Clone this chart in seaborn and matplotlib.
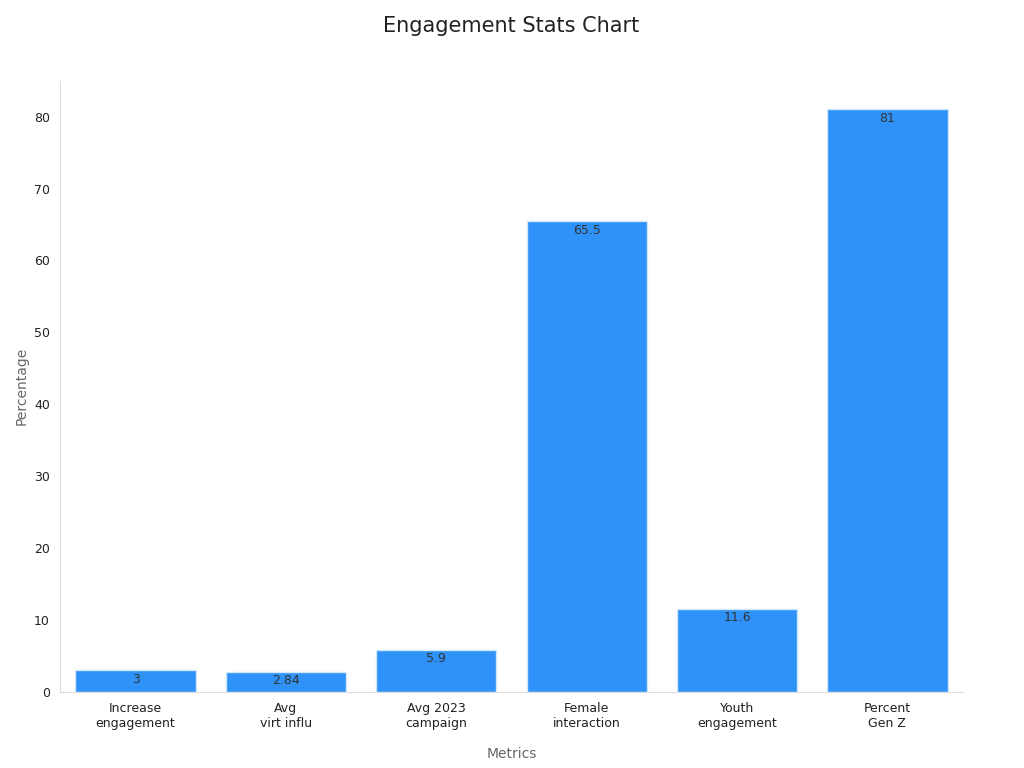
import matplotlib
matplotlib.use("Agg")
import matplotlib.pyplot as plt
import seaborn as sns
import pandas as pd

categories = ["Increase\nengagement", "Avg\nvirt influ", "Avg 2023\ncampaign",
              "Female\ninteraction", "Youth\nengagement", "Percent\nGen Z"]
values = [3, 2.84, 5.9, 65.5, 11.6, 81]
labels = ["3", "2.84", "5.9", "65.5", "11.6", "81"]

df = pd.DataFrame({"Metrics": categories, "Percentage": values})

sns.set_style("white")
fig, ax = plt.subplots(figsize=(10.24, 7.68), dpi=100)
fig.subplots_adjust(left=0.059, right=0.94, top=0.895, bottom=0.099)

sns.barplot(data=df, x="Metrics", y="Percentage", color="#2f92f8", saturation=1,
            edgecolor="#cfe6fb", linewidth=1, width=0.8, ax=ax)
for p, lab in zip(ax.patches, labels):
    ax.text(p.get_x() + p.get_width() / 2, p.get_height() - 0.4, lab,
            ha="center", va="top", fontsize=9, color="#333333")

ax.set_ylim(0, 85)
ax.set_xlim(-0.5, 5.5)
ax.set_yticks(range(0, 81, 10))
ax.tick_params(axis="both", labelsize=9, colors="#222222", length=4, color="#999999")
ax.set_title("Engagement Stats Chart", fontsize=15, color="#222222", pad=35)
ax.set_xlabel("Metrics", fontsize=10, color="#666666", labelpad=12)
ax.set_ylabel("Percentage", fontsize=10, color="#666666")
for s in ["top", "right"]:
    ax.spines[s].set_visible(False)
for s in ["left", "bottom"]:
    ax.spines[s].set_color("#dddddd")

fig.savefig("out.png")
